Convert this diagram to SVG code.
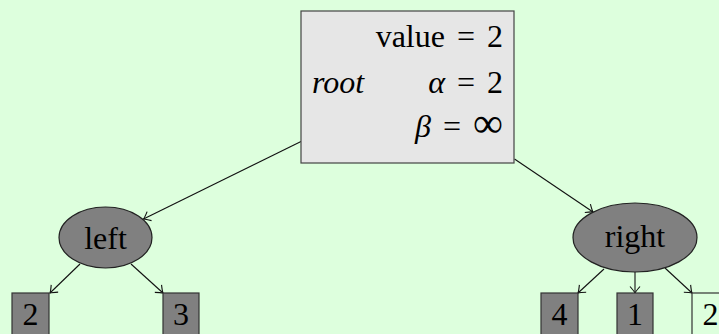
<svg xmlns="http://www.w3.org/2000/svg" width="719" height="334" viewBox="0 0 719 334">
<style>
.t{font-family:"Liberation Serif","DejaVu Serif",serif;font-size:32px;fill:#000}
.m{word-spacing:4px}
.i{font-style:italic}
.box{fill:#808080;stroke:#333;stroke-width:1.2}
.e{fill:#808080;stroke:#222;stroke-width:1.2}
.c{stroke:#111;stroke-width:1.1;fill:none;marker-end:url(#arr)}
</style>
<defs>
<marker id="arr" markerUnits="userSpaceOnUse" markerWidth="14" markerHeight="14" refX="0" refY="0" viewBox="-8 -7 10 14" orient="auto">
<path d="M-6.5,-5 Q-2,-1 0,0 Q-2,1 -6.5,5" fill="none" stroke="#111" stroke-width="1.1"/>
</marker>
</defs>
<rect width="719" height="334" fill="#ddffdd"/>
<g id="connectors">
<line class="c" x1="301" y1="141.5" x2="143.5" y2="219"/>
<line class="c" x1="514.5" y1="159" x2="593" y2="212"/>
<line class="c" x1="80" y1="264" x2="50" y2="293"/>
<line class="c" x1="131" y1="264" x2="163" y2="293"/>
<line class="c" x1="604" y1="269" x2="578" y2="293"/>
<line class="c" x1="635" y1="272" x2="635" y2="293"/>
<line class="c" x1="665" y1="268" x2="692" y2="293"/>
</g>
<g id="root">
<rect x="301" y="11" width="213" height="152" fill="#e6e6e6" stroke="#444" stroke-width="1.2"/>
<text class="t m" x="503" y="47" text-anchor="end">value = 2</text>
<text class="t i" x="312" y="93">root</text>
<text class="t m" x="503" y="93" text-anchor="end"><tspan class="i">α</tspan> = 2</text>
<text class="t m" x="503" y="137" text-anchor="end"><tspan class="i">β</tspan> = <tspan font-size="42">∞</tspan></text>
</g>
<g id="left">
<ellipse class="e" cx="105.5" cy="237.5" rx="46.5" ry="30.5"/>
<text class="t" x="105.5" y="249" text-anchor="middle">left</text>
</g>
<g id="right">
<ellipse class="e" cx="635" cy="237.5" rx="62" ry="34.5"/>
<text class="t" x="635" y="247" text-anchor="middle">right</text>
</g>
<g id="l2">
<rect class="box" x="12" y="293" width="37" height="50"/>
<text class="t" x="30.5" y="325" text-anchor="middle">2</text>
</g>
<g id="l3">
<rect class="box" x="163" y="293" width="36" height="50"/>
<text class="t" x="181" y="325" text-anchor="middle">3</text>
</g>
<g id="r4">
<rect class="box" x="541" y="293" width="37" height="50"/>
<text class="t" x="559.5" y="325" text-anchor="middle">4</text>
</g>
<g id="r1">
<rect class="box" x="617" y="293" width="36" height="50"/>
<text class="t" x="635" y="325" text-anchor="middle">1</text>
</g>
<g id="r2">
<rect x="692" y="293" width="37" height="50" fill="#ddffdd" stroke="#333" stroke-width="1.2"/>
<text class="t" x="710.5" y="325" text-anchor="middle">2</text>
</g>
</svg>
